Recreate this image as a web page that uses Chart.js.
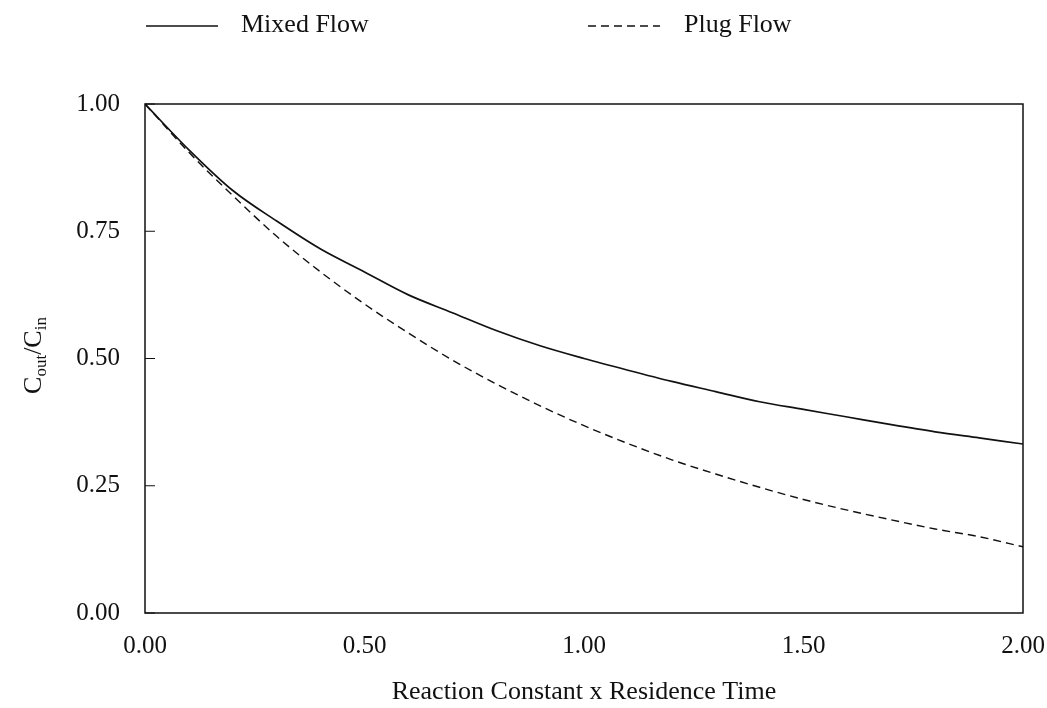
<!DOCTYPE html>
<html>
<head>
<meta charset="utf-8">
<script src="https://cdn.jsdelivr.net/npm/chart.js@4.4.0/dist/chart.umd.min.js"></script>
<style>
  html, body { margin: 0; padding: 0; background: #fff; }
  #wrap { width: 1047px; height: 708px; }
</style>
</head>
<body>
<div id="wrap"><canvas id="myChart" width="1047" height="708"></canvas></div>
<script>
// Valores
const kt = [0, 0.1, 0.2, 0.3, 0.4, 0.5, 0.6, 0.7, 0.8, 0.9, 1.0,
            1.1, 1.2, 1.3, 1.4, 1.5, 1.6, 1.7, 1.8, 1.9, 2.0];
const mixedFlow = [1.00, 0.91, 0.83, 0.77, 0.715, 0.67, 0.625, 0.59, 0.555, 0.525, 0.50,
                   0.477, 0.455, 0.435, 0.415, 0.40, 0.385, 0.37, 0.356, 0.344, 0.332];
const plugFlow = [1.00, 0.905, 0.82, 0.74, 0.67, 0.607, 0.55, 0.497, 0.45, 0.407, 0.368,
                  0.333, 0.301, 0.273, 0.247, 0.223, 0.202, 0.183, 0.165, 0.15, 0.13];
const xTicks = [0, 0.5, 1.0, 1.5, 2.0];
const yTicks = [0, 0.25, 0.5, 0.75, 1.0];

const serif = '"Liberation Serif", "DejaVu Serif", serif';

// Moldura, marcas internas do eixo Y, legenda e título do eixo Y
const extras = {
  id: 'extras',
  afterDraw(chart) {
    const c = chart.ctx;
    const a = chart.chartArea;
    const y = chart.scales.y;
    c.save();
    c.strokeStyle = '#111';
    c.lineWidth = 1.5;
    c.strokeRect(a.left, a.top, a.right - a.left, a.bottom - a.top);
    c.lineWidth = 1;
    yTicks.forEach(v => {
      const py = y.getPixelForValue(v);
      c.beginPath();
      c.moveTo(a.left, py);
      c.lineTo(a.left + 10, py);
      c.stroke();
    });

    // legenda
    const ds = chart.data.datasets;
    const items = [{x: 146, tx: 241}, {x: 588, tx: 684}];
    c.font = '26px ' + serif;
    c.fillStyle = '#111';
    c.textBaseline = 'middle';
    items.forEach((it, i) => {
      c.beginPath();
      c.setLineDash(ds[i].borderDash || []);
      c.lineWidth = 1.3;
      c.moveTo(it.x, 26);
      c.lineTo(it.x + 72, 26);
      c.stroke();
      c.setLineDash([]);
      c.fillText(ds[i].label, it.tx, 25);
    });

    // título do eixo Y com subscritos
    c.translate(33, (a.top + a.bottom) / 2 - 3);
    c.rotate(-Math.PI / 2);
    const parts = [['C', 0], ['out', 1], ['/C', 0], ['in', 1]];
    let w = 0;
    parts.forEach(p => {
      c.font = (p[1] ? '17px ' : '26px ') + serif;
      w += c.measureText(p[0]).width;
    });
    let px = -w / 2;
    c.textAlign = 'left';
    c.textBaseline = 'alphabetic';
    parts.forEach(p => {
      c.font = (p[1] ? '17px ' : '26px ') + serif;
      c.fillText(p[0], px, p[1] ? 13 : 8);
      px += c.measureText(p[0]).width;
    });
    c.restore();
  }
};

const ctx = document.getElementById('myChart').getContext('2d');

new Chart(ctx, {
  type: 'line',
  data: {
    datasets: [{
      label: 'Mixed Flow',
      data: kt.map((v, i) => ({x: v, y: mixedFlow[i]})),
      borderColor: '#111',
      borderWidth: 1.7,
      pointRadius: 0,
      cubicInterpolationMode: 'monotone',
      fill: false
    }, {
      label: 'Plug Flow',
      data: kt.map((v, i) => ({x: v, y: plugFlow[i]})),
      borderColor: '#111',
      borderWidth: 1.4,
      borderDash: [8, 5],
      pointRadius: 0,
      cubicInterpolationMode: 'monotone',
      fill: false
    }]
  },
  options: {
    responsive: false,
    animation: false,
    layout: { padding: { left: 0, top: 104, right: 24, bottom: 0 } },
    plugins: {
      legend: { display: false },
      tooltip: { enabled: false }
    },
    scales: {
      x: {
        type: 'linear',
        min: 0,
        max: 2,
        afterFit(s) { s.height = 95; s.paddingLeft = 0; s.paddingRight = 0; },
        afterBuildTicks(s) { s.ticks = xTicks.map(v => ({value: v})); },
        grid: { display: false, drawTicks: false },
        border: { display: false },
        ticks: {
          color: '#111',
          padding: 18,
          font: { family: serif, size: 25 },
          callback: v => v.toFixed(2)
        },
        title: {
          display: true,
          text: 'Reaction Constant x Residence Time',
          color: '#111',
          font: { family: serif, size: 26 },
          padding: { top: 14, bottom: 0 }
        }
      },
      y: {
        min: 0,
        max: 1,
        afterFit(s) { s.width = 145; s.paddingTop = 0; s.paddingBottom = 0; },
        afterBuildTicks(s) { s.ticks = yTicks.map(v => ({value: v})); },
        grid: { display: false, drawTicks: false },
        border: { display: false },
        ticks: {
          color: '#111',
          padding: 25,
          font: { family: serif, size: 25 },
          callback: v => v.toFixed(2)
        }
      }
    }
  },
  plugins: [extras]
});
</script>
</body>
</html>
